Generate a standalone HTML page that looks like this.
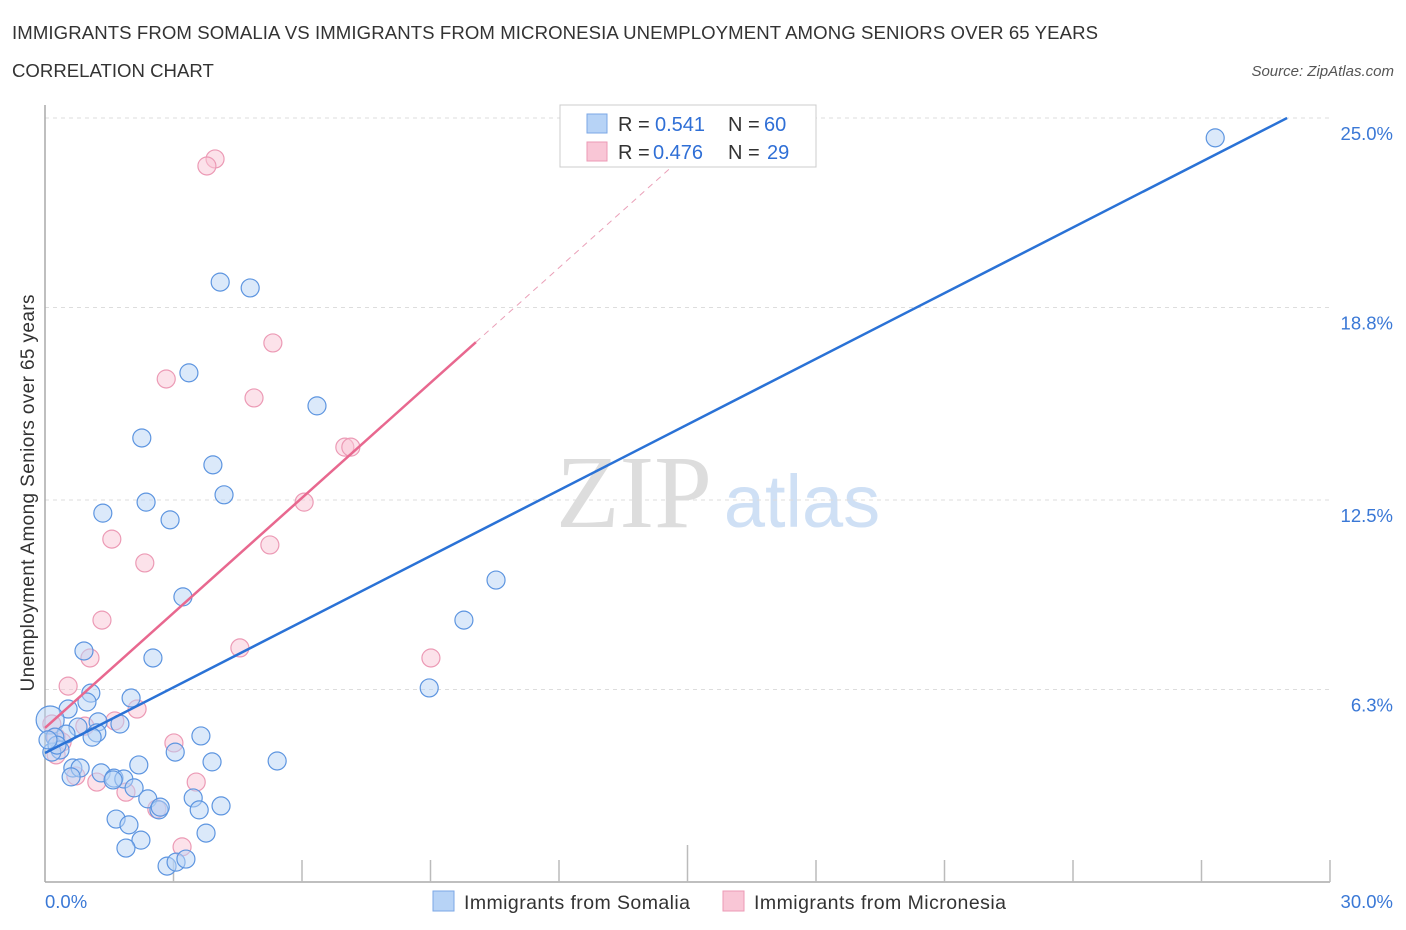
<!DOCTYPE html>
<html><head><meta charset="utf-8">
<style>
body{margin:0;background:#fff;font-family:"Liberation Sans",sans-serif;}
svg{display:block}
</style></head>
<body>
<svg width="1406" height="930" id="chart" xmlns="http://www.w3.org/2000/svg">
<text x="12" y="39" font-size="18.6" fill="#333" textLength="1086">IMMIGRANTS FROM SOMALIA VS IMMIGRANTS FROM MICRONESIA UNEMPLOYMENT AMONG SENIORS OVER 65 YEARS</text>
<text x="12" y="77" font-size="18.6" fill="#333">CORRELATION CHART</text>
<text x="1394" y="76" font-size="15" fill="#555" font-style="italic" text-anchor="end">Source: ZipAtlas.com</text>
<text x="634" y="527" font-size="104" fill="#ddd" font-family="Liberation Serif,serif" text-anchor="middle">ZIP</text>
<text x="802" y="527" font-size="74" fill="#cfe0f5" text-anchor="middle">atlas</text>
<g id="grid"></g>
<g id="marks"></g>
<text transform="translate(34,493) rotate(-90)" font-size="19" fill="#333" text-anchor="middle" textLength="397">Unemployment Among Seniors over 65 years</text>
<g>
<rect x="560" y="105" width="256" height="62" fill="#fff" stroke="#ccc"/>
<rect x="587" y="114" width="20" height="19" fill="#b7d3f6" stroke="#7ba7e6"/>
<rect x="587" y="142" width="20" height="19" fill="#f9c6d6" stroke="#ec9ab5"/>
<text x="618" y="131" font-size="20" fill="#333">R = <tspan x="655" fill="#2f6fd6">0.541</tspan><tspan x="728">N = </tspan><tspan x="764" fill="#2f6fd6">60</tspan></text>
<text x="618" y="159" font-size="20" fill="#333">R = <tspan x="653" fill="#2f6fd6">0.476</tspan><tspan x="728">N = </tspan><tspan x="767" fill="#2f6fd6">29</tspan></text>
</g>
<g>
<rect x="433" y="891" width="21" height="20" fill="#b7d3f6" stroke="#7ba7e6"/>
<text x="464" y="909" font-size="19.5" fill="#333" textLength="226">Immigrants from Somalia</text>
<rect x="723" y="891" width="21" height="20" fill="#f9c6d6" stroke="#ec9ab5"/>
<text x="754" y="909" font-size="19.5" fill="#333" textLength="252">Immigrants from Micronesia</text>
</g>
</svg>
<script>
const yTicks=[25.0,18.8,12.5,6.3];
const yTickLabels=["25.0%","18.8%","12.5%","6.3%"];
const xTickLabels=["0.0%","30.0%"];
const somaliaX=[27.32,4.09,4.79,3.36,6.35,2.26,3.92,4.18,2.36,1.35,2.92,10.53,3.22,9.78,0.91,2.52,8.97,1.07,2.01,0.98,0.54,0.12,1.24,1.75,0.77,1.21,0.49,0.23,1.10,3.64,3.04,0.35,0.16,2.19,3.90,5.42,0.65,0.82,1.31,1.61,1.84,0.61,2.08,2.40,3.46,2.66,3.60,4.11,1.66,1.96,3.76,2.24,1.89,2.85,3.06,3.29,0.28,1.59,2.69,0.07];
const somaliaY=[24.35,19.63,19.44,16.66,15.58,14.53,13.65,12.67,12.43,12.07,11.85,9.88,9.33,8.57,7.56,7.33,6.35,6.18,6.02,5.89,5.66,5.30,5.24,5.17,5.07,4.88,4.84,4.74,4.74,4.78,4.25,4.32,4.25,3.83,3.93,3.96,3.73,3.73,3.57,3.40,3.37,3.44,3.08,2.72,2.75,2.36,2.36,2.49,2.06,1.87,1.60,1.37,1.11,0.52,0.65,0.75,4.48,3.34,2.45,4.65];
const micronesiaX=[3.97,3.78,5.32,2.83,4.88,7.00,7.14,6.05,1.56,5.25,2.33,1.33,4.55,9.01,1.05,0.54,2.15,1.63,0.93,0.16,0.26,0.40,3.01,0.26,0.72,1.21,3.53,1.89,2.61,3.20];
const micronesiaY=[23.66,23.43,17.64,16.46,15.84,14.23,14.23,12.43,11.22,11.03,10.44,8.57,7.66,7.33,7.33,6.41,5.66,5.27,5.10,5.17,4.74,4.58,4.55,4.16,3.47,3.27,3.27,2.94,2.39,1.15];
const somaliaFit=[4.22,0.7166];
const micronesiaFit=[5.04,1.255];

const NS="http://www.w3.org/2000/svg";
const X0=45,X1=1330,Y0=882,Y25=118;
const xs=v=>X0+(X1-X0)*v/30;
const ys=v=>Y0-(Y0-Y25)*v/25;
function mk(tag,attrs,parent){const e=document.createElementNS(NS,tag);for(const k in attrs)e.setAttribute(k,attrs[k]);parent.appendChild(e);return e;}
const grid=document.getElementById('grid'),marks=document.getElementById('marks');
yTicks.forEach((t,i)=>{
  const l=mk('line',{x1:X0,x2:X1,y1:ys(t),y2:ys(t),stroke:'#ddd','stroke-dasharray':'4,4'},grid);
  
  
  const tx=mk('text',{x:1393,y:ys(t)+22,'font-size':18.5,fill:'#3a78d6','text-anchor':'end'},grid);
  tx.textContent=yTickLabels[i];
  
  
});
const ax=mk('line',{x1:X0,x2:X0,y1:105,y2:Y0,stroke:'#aaa','stroke-width':1.5},grid);


const bx=mk('line',{x1:X0,x2:X1,y1:Y0,y2:Y0,stroke:'#aaa','stroke-width':1.5},grid);


for(let i=1;i<=10;i++){
  const t=mk('line',{x1:xs(i*3),x2:xs(i*3),y1:Y0,y2:i==5?845:860,stroke:'#bbb','stroke-width':1.5},grid);
  
  
}
[[0,'start',45],[30,'end',1393]].forEach((d,i)=>{
  const t=mk('text',{x:d[2],y:908,'font-size':18.5,fill:'#3a78d6','text-anchor':d[1]},grid);
  t.textContent=xTickLabels[i];
  
  
});
function pts(xa,ya,fill,stroke,name){
  xa.forEach((x,i)=>{
    const c=mk('circle',{cx:xs(x),cy:ys(ya[i]),r:(name=='somalia-point'&&i==21)?14:9,fill:fill,'fill-opacity':0.5,stroke:stroke,'stroke-width':1.2},marks);
    
    
  });
}
pts(micronesiaX,micronesiaY,'#f9c6d6','#ec9ab5','micronesia-point');
pts(somaliaX,somaliaY,'#b7d3f6','#5d95e0','somalia-point');
const bxEnd=(25-somaliaFit[0])/somaliaFit[1];
const bl=mk('line',{x1:xs(0),y1:ys(somaliaFit[0]),x2:xs(bxEnd),y2:ys(25),stroke:'#2a72d6','stroke-width':2.5},marks);


const pSolid=10.06, pEnd=(25-micronesiaFit[0])/micronesiaFit[1];
const pl=mk('line',{x1:xs(0),y1:ys(micronesiaFit[0]),x2:xs(pSolid),y2:ys(micronesiaFit[0]+micronesiaFit[1]*pSolid),stroke:'#e8688f','stroke-width':2.5},marks);


const pd=mk('line',{x1:xs(pSolid),y1:ys(micronesiaFit[0]+micronesiaFit[1]*pSolid),x2:xs(pEnd),y2:ys(25),stroke:'#eaa0b8','stroke-width':1,'stroke-dasharray':'6,5'},marks);


</script>
</body></html>
